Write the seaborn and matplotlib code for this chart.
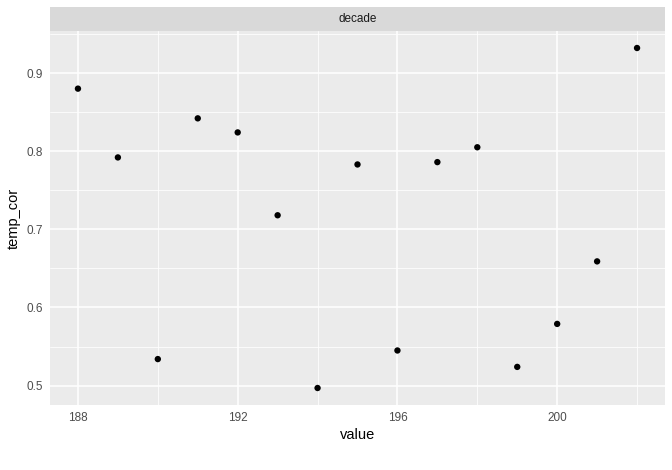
import numpy as np
import pandas as pd
import seaborn as sns
import matplotlib.pyplot as plt
from matplotlib.ticker import MultipleLocator

# values
value = [188, 189, 190, 191, 192, 193, 194, 195, 196, 197, 198, 199, 200, 201, 202]
temp_cor = [0.880, 0.792, 0.534, 0.842, 0.824, 0.718, 0.497, 0.783, 0.545,
            0.786, 0.805, 0.524, 0.579, 0.659, 0.932]
facet_label = "decade"
x_ticks = [188, 192, 196, 200]
y_ticks = [0.5, 0.6, 0.7, 0.8, 0.9]

df = pd.DataFrame({"value": value, "temp_cor": temp_cor})

sns.set_theme(style="darkgrid")
plt.rcParams["font.family"] = ["Liberation Sans", "DejaVu Sans"]

fig = plt.figure(figsize=(6.72, 4.70), dpi=100)
W, H = 672, 470
left, right, top, bottom = 50, 665, 31, 405
strip_top = 7

ax = fig.add_axes([left / W, 1 - bottom / H, (right - left) / W, (bottom - top) / H])
strip = fig.add_axes([left / W, 1 - top / H, (right - left) / W, (top - strip_top) / H])

sns.scatterplot(data=df, x="value", y="temp_cor", ax=ax, color="black",
                s=21, edgecolor="none", zorder=3)

# ggplot-like expansion (5%)
xr = max(value) - min(value)
yr = max(temp_cor) - min(temp_cor)
ax.set_xlim(min(value) - 0.05 * xr, max(value) + 0.05 * xr)
ax.set_ylim(min(temp_cor) - 0.05 * yr, max(temp_cor) + 0.05 * yr)

ax.set_facecolor("#EBEBEB")
ax.set_xticks(x_ticks)
ax.set_yticks(y_ticks)
ax.set_xticklabels([str(t) for t in x_ticks])
ax.set_yticklabels([f"{t:.1f}" for t in y_ticks])
ax.xaxis.set_minor_locator(MultipleLocator(2))
ax.yaxis.set_minor_locator(MultipleLocator(0.05))
ax.grid(which="major", color="white", linewidth=1.1)
ax.grid(which="minor", color="white", linewidth=0.55)
ax.set_axisbelow(True)
for sp in ax.spines.values():
    sp.set_visible(False)
ax.tick_params(axis="both", which="major", length=2.7, width=0.8, color="#333333",
               labelsize=8.5, labelcolor="#4D4D4D", pad=2.5)
ax.tick_params(which="minor", length=0)
ax.set_xlabel("value", fontsize=10.5, color="black", labelpad=3)
ax.set_ylabel("temp_cor", fontsize=10.5, color="black", labelpad=4)

strip.set_facecolor("#D9D9D9")
strip.set_xticks([])
strip.set_yticks([])
strip.grid(False)
for sp in strip.spines.values():
    sp.set_visible(False)
strip.text(0.5, 0.5, facet_label, ha="center", va="center", fontsize=8.5,
           color="#1A1A1A", transform=strip.transAxes)

fig.savefig("out.png", dpi=100, facecolor="white")
